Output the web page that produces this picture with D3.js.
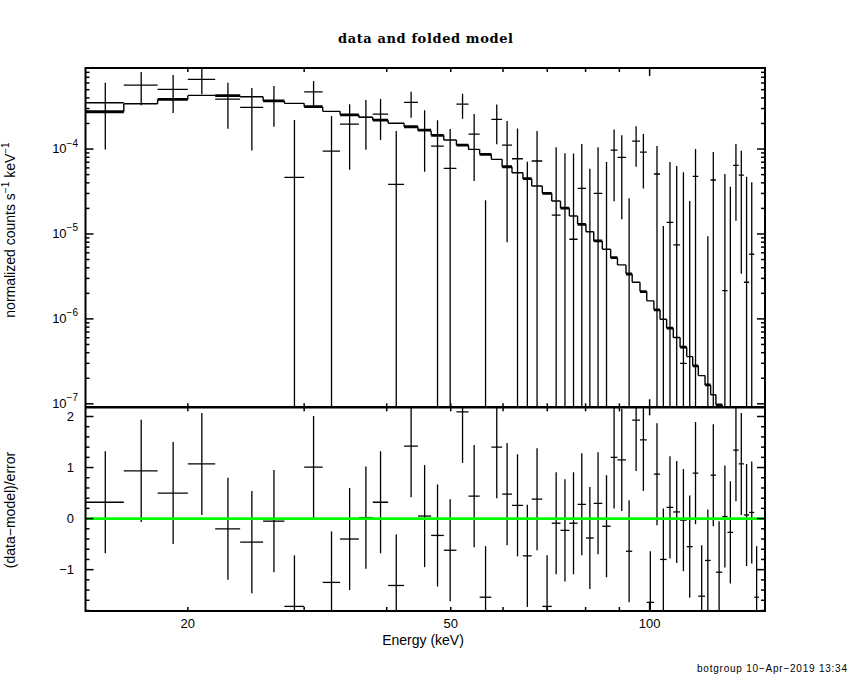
<!DOCTYPE html>
<html>
<head>
<meta charset="utf-8">
<script src="https://cdn.jsdelivr.net/npm/d3@7"></script>
<style>
body { margin: 0; background: #fff; }
svg { display: block; font-family: "Liberation Sans", Arial, sans-serif; }
</style>
</head>
<body>
<script>
/* channel edges in keV, one more than the number of bins */
var edges = [14, 16, 18, 20, 22, 24, 26, 28, 30, 32, 34, 36.3, 38.1, 40.2, 42.5, 44.6, 46.7, 48.8,
	51.0, 53.2, 55.3, 57.6, 59.8, 61.9, 64.3, 66.3, 68.8, 71.1, 73.3, 75.6, 77.8, 80.1, 82.3,
	84.8, 87.3, 89.4, 92.1, 94.1, 96.7, 99.0, 101.5, 103.7, 106.1, 108.6, 111.2, 113.8, 116.2,
	118.5, 121.3, 123.7, 126.0, 128.8, 131.2, 133.8, 136.4, 138.9, 141.5, 144.0, 146.4];

/* normalized counts s-1 keV-1 */
var rate = [3.51e-4, 5.66e-4, 5.04e-4, 6.61e-4, 3.88e-4, 3.09e-4, 3.67e-4, 4.65e-5, 4.72e-4, 9.47e-5,
	1.97e-4, 2.38e-4, 2.58e-4, 3.84e-5, 3.54e-4, 1.70e-4, 1.08e-4, 5.93e-5, 3.38e-4, 1.50e-4,
	-8.9e-5, 2.24e-4, 1.11e-4, 7.69e-5, -2.58e-5, 7.23e-5, -1.21e-4, 1.67e-5, -5e-7, 8.66e-6,
	3.45e-5, -1.89e-5, 3.01e-5, -4.7e-6, 9.73e-5, 7.99e-5, -3.74e-5, 1.24e-4, 9.22e-5, -9.35e-5,
	5.08e-5, -4.46e-5, 1.37e-5, 7.43e-6, 3.0e-7, -2.9e-5, 4.77e-5, -8.04e-5, -4.36e-5, 4.32e-5,
	-5.24e-5, 2.15e-6, -1.32e-5, 6.43e-5, 4.94e-5, 2.7e-6, 5.77e-6, -6.8e-5];

var rateErr = [2.52e-4, 2.39e-4, 2.38e-4, 2.18e-4, 2.15e-4, 2.13e-4, 1.84e-4, 1.73e-4, 1.6e-4, 1.5e-4,
	1.4e-4, 1.4e-4, 1.3e-4, 1.25e-4, 1.2e-4, 1.16e-4, 1.11e-4, 1.13e-4, 1.1e-4, 1.08e-4,
	1.14e-4, 1.1e-4, 1.03e-4, 9.8e-5, 9.67e-5, 9.1e-5, 8.8e-5, 8.8e-5, 8.95e-5, 8.0e-5,
	8.0e-5, 7.76e-5, 7.46e-5, 7.5e-5, 7.3e-5, 6.5e-5, 6.37e-5, 6.2e-5, 5.8e-5, 5.8e-5,
	5.77e-5, 5.7e-5, 5.66e-5, 5.57e-5, 5.3e-5, 5.34e-5, 5.23e-5, 5.3e-5, 5.3e-5, 4.9e-5,
	5.0e-5, 4.87e-5, 4.92e-5, 5.0e-5, 4.6e-5, 4.45e-5, 3.48e-5, 4.4e-5];

var model = [2.75e-4, 3.41e-4, 3.84e-4, 4.28e-4, 4.25e-4, 4.12e-4, 3.70e-4, 3.45e-4, 3.15e-4, 2.78e-4,
	2.53e-4, 2.36e-4, 2.19e-4, 2.01e-4, 1.83e-4, 1.64e-4, 1.45e-4, 1.28e-4, 1.11e-4, 9.9e-5,
	8.66e-5, 7.56e-5, 6.19e-5, 5.26e-5, 4.48e-5, 3.67e-5, 3.01e-5, 2.44e-5, 2.01e-5, 1.63e-5,
	1.30e-5, 1.06e-5, 8.28e-6, 6.61e-6, 5.26e-6, 4.32e-6, 3.38e-6, 2.70e-6, 2.10e-6, 1.63e-6,
	1.28e-6, 9.91e-7, 7.78e-7, 6.03e-7, 4.65e-7, 3.60e-7, 2.80e-7, 2.15e-7, 1.67e-7, 1.28e-7,
	9.73e-8, 7.5e-8, 5.8e-8, 4.5e-8, 3.4e-8, 2.6e-8, 2.0e-8, 1.5e-8];

/* (data-model)/error */
var resid = [0.32, 0.935, 0.50, 1.07, -0.20, -0.46, -0.05, -1.72, 1.01, -1.25,
	-0.40, 0.02, 0.32, -1.31, 1.42, 0.05, -0.33, -0.62, 2.09, 0.44,
	-1.54, 1.40, 0.48, 0.26, -0.73, 0.38, -1.72, -0.09, -0.23, -0.09,
	0.28, -0.38, 0.30, -0.15, 1.20, 1.15, -0.64, 1.93, 1.54, -1.64,
	0.87, -0.80, 0.22, 0.13, -0.03, -0.55, 0.89, -1.52, -0.82, 0.85,
	-1.05, 0.04, -0.27, 1.34, 1.07, 0.07, 0.12, -1.54];

var energyLabels = [20, 50, 100];
var countDecades = [1e-7, 1e-6, 1e-5, 1e-4];
var residLabels = [-1, 0, 1, 2];

var W = 850, H = 680;
var L = 85.5, R = 765, T = 68, M = 407.3, B = 611;

var svg = d3.select("body").append("svg")
	.attr("width", W)
	.attr("height", H);

var x = d3.scaleLog().domain([14, 149.5]).range([L, R]);
var y = d3.scaleLog().domain([9.1e-8, 9.0e-4]).range([M, T]);
var yr = d3.scaleLinear().domain([-1.81, 2.18]).range([B, M]);

var defs = svg.append("defs");
defs.append("clipPath").attr("id", "clipTop")
	.append("rect").attr("x", L).attr("y", T).attr("width", R - L).attr("height", M - T);
defs.append("clipPath").attr("id", "clipBot")
	.append("rect").attr("x", L).attr("y", M).attr("width", R - L).attr("height", B - M);

function seg(g, x1, y1, x2, y2, w, col){
	g.append("line")
		.attr("x1", x1).attr("y1", y1)
		.attr("x2", x2).attr("y2", y2)
		.attr("stroke", col || "black")
		.attr("stroke-width", w);
}

/* data crosses, top panel */
var gTop = svg.append("g").attr("clip-path", "url(#clipTop)");
for (var i = 0; i < rate.length; i += 1){
	var lo = edges[i], hi = edges[i+1], xc = x((lo + hi)/2);
	var up = rate[i] + rateErr[i], dn = rate[i] - rateErr[i];
	if (up <= 0) continue;
	seg(gTop, xc, dn > 0 ? y(dn) : M + 5, xc, y(up), 1.3);
	if (rate[i] > 0)
		seg(gTop, x(lo), y(rate[i]), x(hi), y(rate[i]), 1.3);
}

/* folded model, a step line; PGPLOT gives it an uneven width */
for (var i = 0; i < model.length; i += 1){
	var ym = y(model[i]);
	seg(gTop, x(edges[i]), ym, x(edges[i+1]), ym, (i % 2 == 0) ? 2.8 : 1.4);
	if (i < model.length - 1)
		seg(gTop, x(edges[i+1]), ym, x(edges[i+1]), y(model[i+1]), 1.4);
}

/* residuals */
var gBot = svg.append("g").attr("clip-path", "url(#clipBot)");
for (var i = 0; i < resid.length; i += 1){
	var lo = edges[i], hi = edges[i+1], xc = x((lo + hi)/2);
	seg(gBot, xc, yr(resid[i] - 1), xc, yr(resid[i] + 1), 1.3);
	seg(gBot, x(lo), yr(resid[i]), x(hi), yr(resid[i]), 1.3);
}
seg(gBot, L, yr(0), R, yr(0), 2.6, "#00ff00");

/* frames */
svg.append("rect").attr("x", L).attr("y", T).attr("width", R - L).attr("height", B - T)
	.attr("fill", "none").attr("stroke", "black").attr("stroke-width", 2);
seg(svg, L, M, R, M, 2.6);

/* ticks, all pointing inward */
var ax = svg.append("g");
var xMinor = [20, 30, 40, 50, 60, 70, 80, 90];
[[T, M], [M, B]].forEach(function(p){
	xMinor.forEach(function(e){
		seg(ax, x(e), p[0], x(e), p[0] + 4, 1.5);
		seg(ax, x(e), p[1], x(e), p[1] - 4, 1.5);
	});
	seg(ax, x(100), p[0], x(100), p[0] + 8, 1.5);
	seg(ax, x(100), p[1], x(100), p[1] - 8, 1.5);
});

countDecades.forEach(function(d){
	seg(ax, L, y(d), L + 8, y(d), 1.5);
	seg(ax, R, y(d), R - 8, y(d), 1.5);
	for (var k = 2; k < 10; k += 1){
		var v = k*d;
		if (v >= 9.0e-4) continue;
		seg(ax, L, y(v), L + 4, y(v), 1.5);
		seg(ax, R, y(v), R - 4, y(v), 1.5);
	}
});
seg(ax, L, y(9e-8), L + 4, y(9e-8), 0);

for (var k = -9; k <= 10; k += 1){
	var v = k*0.2;
	if (v <= -1.81 || v >= 2.18) continue;
	var len = (k % 5 == 0) ? 8 : 4;
	seg(ax, L, yr(v), L + len, yr(v), 1.5);
	seg(ax, R, yr(v), R - len, yr(v), 1.5);
}

/* tick labels */
energyLabels.forEach(function(e){
	svg.append("text")
		.attr("x", x(e))
		.attr("y", 628)
		.attr("text-anchor", "middle")
		.style("font-size", "13px")
		.text(e);
});

countDecades.forEach(function(d){
	var t = svg.append("text")
		.attr("x", 78)
		.attr("y", y(d) + 4)
		.attr("text-anchor", "end")
		.style("font-size", "13px");
	t.append("tspan").text("10");
	t.append("tspan")
		.attr("dy", -6.5)
		.style("font-size", "10px")
		.text("\u2212" + Math.abs(Math.round(Math.log10(d))));
});

residLabels.forEach(function(r){
	svg.append("text")
		.attr("x", 74)
		.attr("y", yr(r) + 4.5)
		.attr("text-anchor", "end")
		.style("font-size", "13px")
		.text(r < 0 ? "\u2212" + Math.abs(r) : r);
});

/* axis titles */
var yl = svg.append("text")
	.attr("transform", "translate(15,230)rotate(-90)")
	.attr("text-anchor", "middle")
	.style("font-size", "14px");
yl.append("tspan").text("normalized counts s");
yl.append("tspan").attr("dy", -6).style("font-size", "10px").text("\u22121");
yl.append("tspan").attr("dy", 6).text(" keV");
yl.append("tspan").attr("dy", -6).style("font-size", "10px").text("\u22121");

svg.append("text")
	.attr("transform", "translate(15,510)rotate(-90)")
	.attr("text-anchor", "middle")
	.style("font-size", "14px")
	.text("(data\u2212model)/error");

svg.append("text")
	.attr("x", 423)
	.attr("y", 645)
	.attr("text-anchor", "middle")
	.style("font-size", "14px")
	.text("Energy (keV)");

svg.append("text")
	.attr("x", 425.5)
	.attr("y", 43)
	.attr("text-anchor", "middle")
	.attr("textLength", 175)
	.style("font-family", "'DejaVu Serif', serif")
	.style("font-weight", "bold")
	.style("font-size", "13px")
	.text("data and folded model");

svg.append("text")
	.attr("x", 697)
	.attr("y", 672)
	.attr("textLength", 150)
	.style("font-size", "10px")
	.text("botgroup 10\u2212Apr\u22122019 13:34");
</script>
</body>
</html>
